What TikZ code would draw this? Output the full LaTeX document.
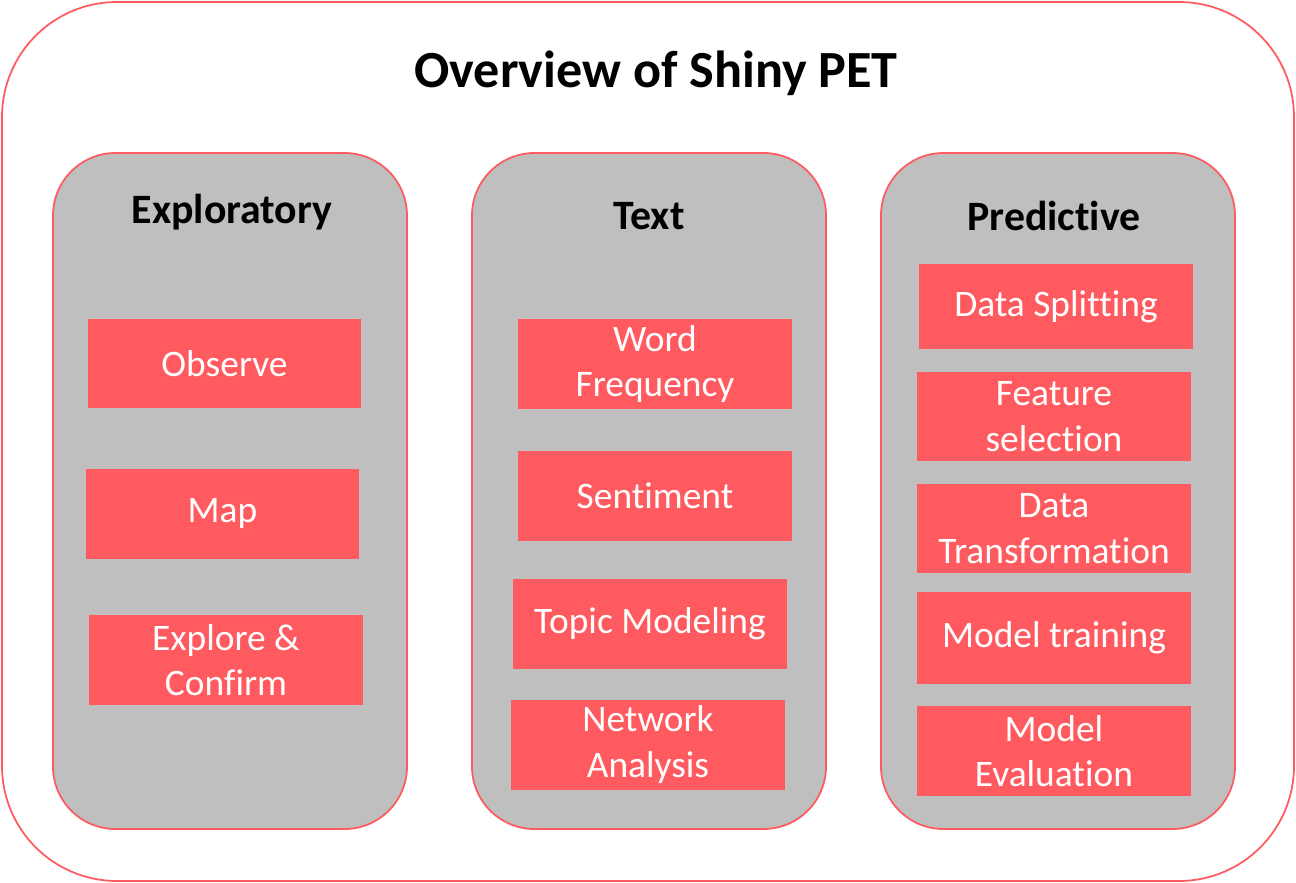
\documentclass[tikz,border=0pt]{standalone}
\usepackage{fontspec}
\setmainfont{Carlito}[Ligatures = NoCommon]
\usepackage{xcolor}
\usepackage{tikz}
\usetikzlibrary{positioning}

\definecolor{petred}{HTML}{FF5A5F}
\definecolor{petgray}{HTML}{BFBFBF}

\tikzset{
  panel/.style = {draw = petred, fill = petgray, line width = 1pt, rounded corners = 1.25cm},
  task/.style = {fill = petred, text = white, align = center,
    minimum width = 5.48cm, minimum height = 1.8cm,
    font = \fontsize{21.3}{25.8}\selectfont},
  heading/.style = {font = \fontsize{23.8}{28}\selectfont\bfseries}
}

\begin{document}
\begin{tikzpicture}[x = 0.02cm, y = -0.02cm]
  \useasboundingbox (0, 0) rectangle (1296, 883);

  \draw[draw = petred, line width = 1pt, rounded corners = 2.3cm]
    (2, 2) rectangle (1294, 881);

  \node[font = \fontsize{29.7}{34}\selectfont\bfseries] (Title) at (656, 73) {
    Overview of Shiny PET%
  };

  % the three columns
  \draw[panel] (53, 153) rectangle (407, 829);
  \draw[panel] (472, 153) rectangle (826, 829);
  \draw[panel] (881, 153) rectangle (1235, 829);

  \node[heading] (H1) at (232, 212) {
    Exploratory%
  };

  \node[heading] (H2) at (649, 216) {
    Text%
  };

  \node[heading] (H3) at (1054, 216) {
    Predictive%
  };

  % exploratory
  \node[task] (E1) at (224.5, 363.5) {
    Observe%
  };

  \node[task] (E2) at (222.5, 514) {
    Map%
  };

  \node[task] (E3) at (226, 660) {
    Explore \&\\ Confirm%
  };

  % text
  \node[task] (T1) at (655, 364) {
    Word\\ Frequency%
  };

  \node[task] (T2) at (655, 496) {
    Sentiment%
  };

  \node[task] (T3) at (650, 624) {
    Topic Modeling%
  };

  \node[task] (T4) at (648, 744.5) {
    Network\\ Analysis%
  };

  % predictive
  \node[task, minimum height = 1.7cm] (P1) at (1056, 306.5) {
    Data Splitting%
  };

  \node[task] (P2) at (1054, 416.5) {
    Feature\\ selection%
  };

  \node[task] (P3) at (1054, 528.5) {
    Data\\ Transformation%
  };

  \node[task, minimum height = 1.84cm] (P4) at (1054, 638) {
    Model training%
  };

  \node[task] (P5) at (1054, 751) {
    Model\\ Evaluation%
  };
\end{tikzpicture}
\end{document}
